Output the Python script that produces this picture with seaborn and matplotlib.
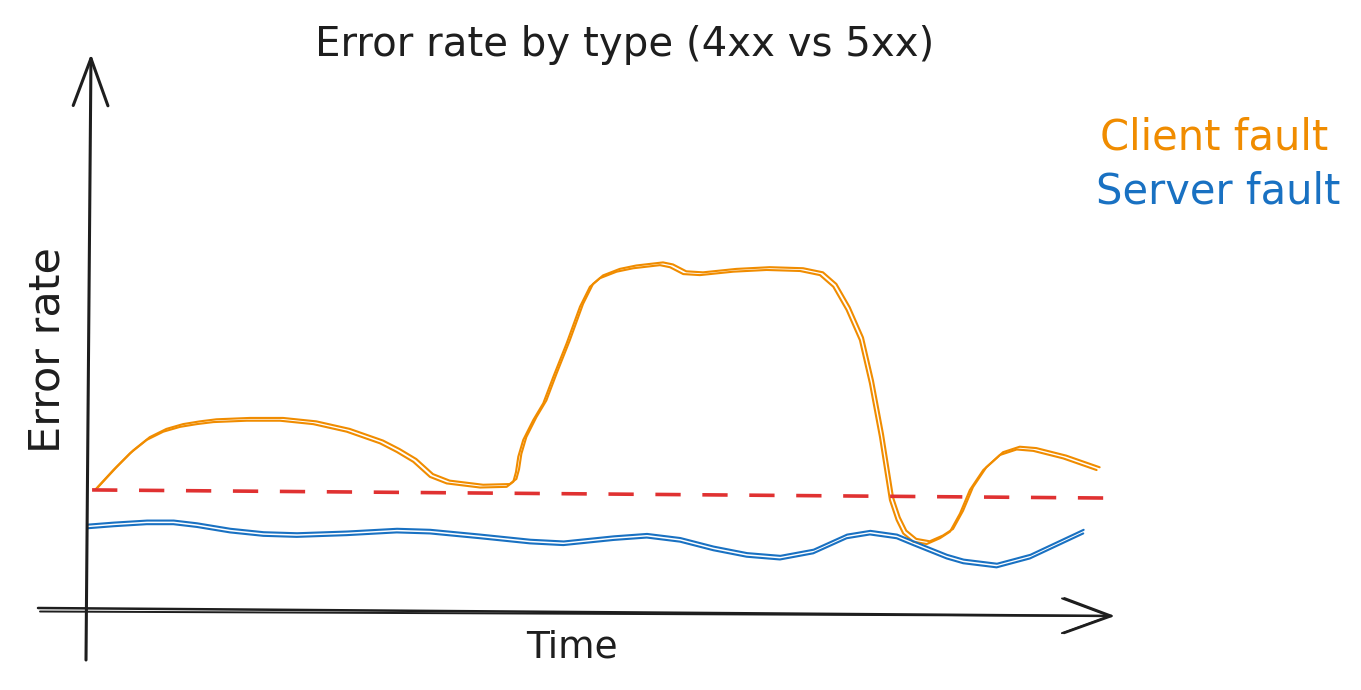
import matplotlib
matplotlib.use("Agg")
import matplotlib.pyplot as plt
import matplotlib.transforms as mtransforms
import pandas as pd
import seaborn as sns

# ---------------- data (time in minutes, error rate in %) ----------------
client_time = [0.69, 2.50, 4.15, 5.80, 7.44, 9.09, 10.74, 12.38, 15.68, 18.97, 22.26,
               25.56, 28.85, 30.50, 32.14, 33.79, 35.44, 38.74, 41.37, 42.03, 42.29,
               42.52, 43.01, 44.00, 44.99, 45.98, 47.30, 48.62, 49.60, 50.59, 52.24,
               53.88, 56.52, 57.51, 58.82, 60.47, 63.76, 67.06, 70.36, 72.33, 73.65,
               74.97, 76.28, 77.27, 78.26, 79.25, 79.91, 80.56, 81.55, 82.88, 84.19,
               85.18, 86.17, 87.15, 88.47, 90.12, 91.77, 93.41, 96.37, 99.67]
client_rate = [3.45, 4.03, 4.52, 4.91, 5.15, 5.29, 5.37, 5.43, 5.47, 5.47, 5.37,
               5.15, 4.81, 4.56, 4.27, 3.83, 3.64, 3.52, 3.54, 3.69, 3.97,
               4.42, 4.91, 5.49, 5.98, 6.75, 7.73, 8.80, 9.38, 9.63, 9.82,
               9.92, 10.01, 9.95, 9.75, 9.72, 9.82, 9.87, 9.84, 9.72, 9.38,
               8.70, 7.82, 6.56, 5.00, 3.15, 2.57, 2.18, 1.94, 1.87, 2.04,
               2.23, 2.76, 3.45, 4.03, 4.47, 4.63, 4.59, 4.37, 4.03]

server_time = [-0.10, 2.50, 5.80, 8.43, 10.74, 14.03, 17.32, 20.62, 25.56, 30.50,
               33.79, 38.74, 43.68, 46.97, 51.94, 55.21, 58.50, 61.79, 65.09, 68.38,
               71.67, 74.97, 77.27, 79.91, 81.55, 84.85, 86.49, 89.79, 93.08, 98.35]
server_rate = [2.33, 2.39, 2.45, 2.45, 2.37, 2.21, 2.11, 2.08, 2.13, 2.21,
               2.18, 2.04, 1.89, 1.84, 1.99, 2.06, 1.94, 1.69, 1.50, 1.42,
               1.60, 2.04, 2.15, 2.04, 1.84, 1.45, 1.31, 1.19, 1.45, 2.18]

threshold_time = [0.4, 101.9]
threshold_rate = [3.45, 3.21]

title = "Error rate by type (4xx vs 5xx)"
x_label = "Time"
y_label = "Error rate"
series_names = ["Client fault", "Server fault"]

# ---------------- style ----------------
ORANGE = "#f08c00"
BLUE = "#1971c2"
RED = "#e03131"
INK = "#1e1e1e"

sns.set_style("white")
plt.rcParams["font.family"] = ["DejaVu Sans"]

W, H = 1361, 690
fig = plt.figure(figsize=(W / 100, H / 100), dpi=100)
ax = fig.add_axes([0, 0, 1, 1])
ax.set_xlim(-8.70, 125.8)
ax.set_ylim(-2.39, 17.75)
ax.axis("off")

df_client = pd.DataFrame({"time": client_time, "rate": client_rate})
df_server = pd.DataFrame({"time": server_time, "rate": server_rate})
df_thr = pd.DataFrame({"time": threshold_time, "rate": threshold_rate})


def sketch_line(df, color, offsets, lw=1.5):
    for dx, dy in offsets:
        tr = mtransforms.offset_copy(ax.transData, fig=fig, x=dx, y=dy, units="points")
        sns.lineplot(data=df, x="time", y="rate", ax=ax, color=color, lw=lw,
                     transform=tr, sort=False, estimator=None, legend=False)
        ax.lines[-1].set_solid_joinstyle("round")
        ax.lines[-1].set_solid_capstyle("round")


sketch_line(df_client, ORANGE, [(0, 0), (2.2, 2.0)])
sketch_line(df_server, BLUE, [(0, 0), (0.3, 2.6)])
sns.lineplot(data=df_thr, x="time", y="rate", ax=ax, color=RED, lw=2.6,
             legend=False)
ax.lines[-1].set_dashes([7, 6])


# axes arrows (figure pixel positions -> figure fraction)
def px(x, y):
    return (x / W, 1 - y / H)


ARROW = "->,head_length=3.4,head_width=1.25"
ax.annotate("", xy=px(91, 54), xytext=px(86, 660), xycoords="figure fraction",
            textcoords="figure fraction",
            arrowprops=dict(arrowstyle=ARROW, color=INK, lw=2.2, shrinkA=0, shrinkB=0,
                            joinstyle="round", capstyle="round"))
for (x0, y0, x1, y1, lw) in [(38, 608, 1115, 616, 1.8), (40, 611.5, 1112, 616, 1.4)]:
    ax.annotate("", xy=px(x1, y1), xytext=px(x0, y0), xycoords="figure fraction",
                textcoords="figure fraction",
                arrowprops=dict(arrowstyle=ARROW, color=INK, lw=lw, shrinkA=0,
                                shrinkB=0, joinstyle="round", capstyle="round"))

fig.text(*px(625, 45), title, ha="center", va="center", fontsize=29, color=INK)
fig.text(*px(572, 648), x_label, ha="center", va="center", fontsize=27, color=INK)
fig.text(*px(48, 350), y_label, ha="center", va="center", fontsize=31, color=INK,
         rotation=90)
fig.text(*px(1100, 137), series_names[0], ha="left", va="center", fontsize=30,
         color=ORANGE)
fig.text(*px(1096, 192), series_names[1], ha="left", va="center", fontsize=30,
         color=BLUE)

fig.savefig("out.png", dpi=100)
